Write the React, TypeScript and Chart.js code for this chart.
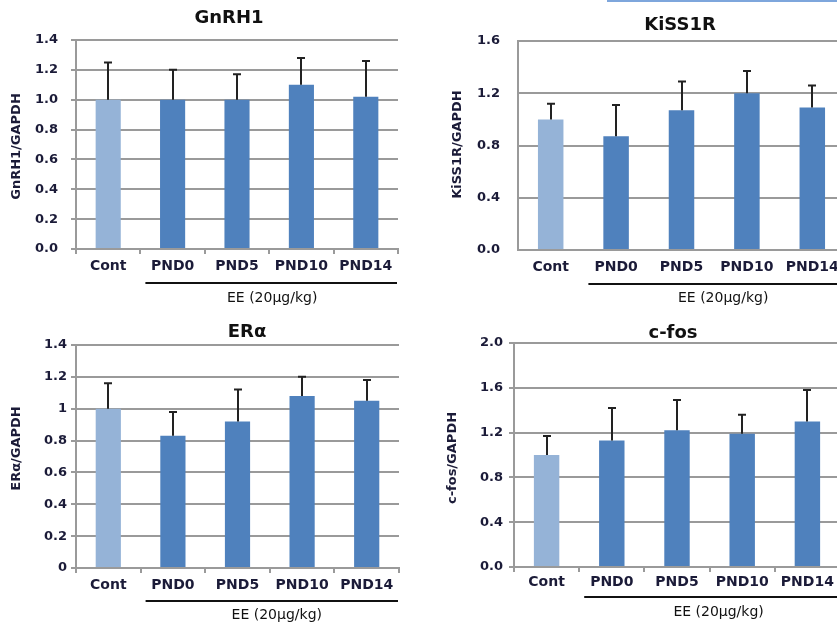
import React, { useEffect, useRef } from "react";
import { Chart, registerables } from "chart.js";

Chart.register(...registerables);

const categories = ["Cont", "PND0", "PND5", "PND10", "PND14"];

const gnrh1Values = [1.0, 1.0, 1.0, 1.1, 1.02];
const gnrh1Errors = [0.25, 0.2, 0.17, 0.18, 0.24];
const gnrh1Ticks = ["0.0", "0.2", "0.4", "0.6", "0.8", "1.0", "1.2", "1.4"];

const kiss1rValues = [1.0, 0.87, 1.07, 1.2, 1.09];
const kiss1rErrors = [0.12, 0.24, 0.22, 0.17, 0.17];
const kiss1rTicks = ["0.0", "0.4", "0.8", "1.2", "1.6"];

const eraValues = [1.0, 0.83, 0.92, 1.08, 1.05];
const eraErrors = [0.16, 0.15, 0.2, 0.12, 0.13];
const eraTicks = ["0", "0.2", "0.4", "0.6", "0.8", "1", "1.2", "1.4"];

const cfosValues = [1.0, 1.13, 1.22, 1.19, 1.3];
const cfosErrors = [0.17, 0.29, 0.27, 0.17, 0.28];
const cfosTicks = ["0.0", "0.4", "0.8", "1.2", "1.6", "2.0"];

const groupLabel = "EE (20μg/kg)";

const LIGHT = "#95B3D7";
const DARK = "#4F81BD";
const GRID = "#9a9a9a";
const TICK_COLOR = "#1b1b38";
const FONT = "DejaVu Sans";

type PanelCfg = {
  title: string;
  yTitle: string;
  values: number[];
  errors: number[];
  ticks: string[];
  max: number;
  step: number;
  left: number;
  top: number;
  width: number;
  height: number;
  area: { l: number; r: number; t: number; b: number };
  titleX: number;
  titleY: number;
  yTitleX: number;
  yTitleDy: number;
  yTickMarks: boolean;
  yPad: number;
  xTickMarks: boolean;
  xPad: number;
  bracketDy: number;
  eeDy: number;
  eeDx: number;
};

const panels: PanelCfg[] = [
  {
    title: "GnRH1", yTitle: "GnRH1/GAPDH", values: gnrh1Values, errors: gnrh1Errors, ticks: gnrh1Ticks,
    max: 1.4, step: 0.2, left: 0, top: 0, width: 420, height: 310,
    area: { l: 76, r: 398, t: 40, b: 249 }, titleX: 229, titleY: 18, yTitleX: 17, yTitleDy: 2,
    yTickMarks: true, yPad: 13, xTickMarks: true, xPad: 4, bracketDy: 34, eeDy: 49, eeDx: 3,
  },
  {
    title: "KiSS1R", yTitle: "KiSS1R/GAPDH", values: kiss1rValues, errors: kiss1rErrors, ticks: kiss1rTicks,
    max: 1.6, step: 0.4, left: 420, top: 0, width: 440, height: 310,
    area: { l: 98, r: 425, t: 41, b: 250 }, titleX: 260, titleY: 25, yTitleX: 38, yTitleDy: -1,
    yTickMarks: false, yPad: 18, xTickMarks: false, xPad: 9, bracketDy: 34, eeDy: 48, eeDx: 9,
  },
  {
    title: "ERα", yTitle: "ERα/GAPDH", values: eraValues, errors: eraErrors, ticks: eraTicks,
    max: 1.4, step: 0.2, left: 0, top: 310, width: 420, height: 316,
    area: { l: 76, r: 399, t: 35, b: 258 }, titleX: 247, titleY: 22, yTitleX: 17, yTitleDy: -8,
    yTickMarks: true, yPad: 4, xTickMarks: true, xPad: 4, bracketDy: 33, eeDy: 47, eeDx: 7,
  },
  {
    title: "c-fos", yTitle: "c-fos/GAPDH", values: cfosValues, errors: cfosErrors, ticks: cfosTicks,
    max: 2.0, step: 0.4, left: 420, top: 310, width: 440, height: 316,
    area: { l: 94, r: 420, t: 33, b: 257 }, titleX: 253, titleY: 23, yTitleX: 33, yTitleDy: 3,
    yTickMarks: true, yPad: 6, xTickMarks: true, xPad: 2, bracketDy: 30, eeDy: 45, eeDx: 9,
  },
];

function Panel({ cfg }: { cfg: PanelCfg }) {
  const ref = useRef<HTMLCanvasElement>(null);

  useEffect(() => {
    if (!ref.current) return;
    const a = cfg.area;
    const deco = {
      id: "deco",
      afterDatasetsDraw(chart: any) {
        const ctx = chart.ctx;
        const y = chart.scales.y;
        const meta = chart.getDatasetMeta(0);
        ctx.save();
        ctx.strokeStyle = "#222";
        ctx.lineWidth = 2;
        meta.data.forEach((bar: any, i: number) => {
          const base = y.getPixelForValue(cfg.values[i]);
          const top = y.getPixelForValue(cfg.values[i] + cfg.errors[i]);
          const bx = Math.round(bar.x);
          ctx.beginPath();
          ctx.moveTo(bx, base);
          ctx.lineTo(bx, top);
          ctx.moveTo(bx - 4, top);
          ctx.lineTo(bx + 4, top);
          ctx.stroke();
        });
        ctx.restore();
      },
      afterDraw(chart: any) {
        const ctx = chart.ctx;
        const x = chart.scales.x;
        const area = chart.chartArea;
        ctx.save();
        ctx.fillStyle = "#111";
        ctx.textAlign = "center";
        ctx.textBaseline = "middle";
        ctx.font = `bold 18px "${FONT}"`;
        ctx.fillText(cfg.title, cfg.titleX, cfg.titleY);
        ctx.save();
        ctx.translate(cfg.yTitleX, (area.top + area.bottom) / 2 + cfg.yTitleDy);
        ctx.rotate(-Math.PI / 2);
        ctx.font = `bold 13px "${FONT}"`;
        ctx.fillStyle = TICK_COLOR;
        ctx.fillText(cfg.yTitle, 0, 0);
        ctx.restore();
        const catW = x.getPixelForValue(1) - x.getPixelForValue(0);
        const bx0 = x.getPixelForValue(1) - catW / 2 + 5;
        const bx1 = area.right - 1;
        const by = area.bottom + cfg.bracketDy;
        ctx.strokeStyle = "#111";
        ctx.lineWidth = 2;
        ctx.beginPath();
        ctx.moveTo(bx0, by);
        ctx.lineTo(bx1, by);
        ctx.stroke();
        ctx.font = `14px "${FONT}"`;
        ctx.fillStyle = "#111";
        const ex = (x.getPixelForValue(1) + x.getPixelForValue(4)) / 2 + cfg.eeDx;
        ctx.fillText(groupLabel, ex, area.bottom + cfg.eeDy);
        ctx.restore();
      },
    };

    const chart = new Chart(ref.current, {
      type: "bar",
      data: {
        labels: categories,
        datasets: [
          {
            data: cfg.values,
            backgroundColor: categories.map((_, i) => (i === 0 ? LIGHT : DARK)),
            borderWidth: 0,
            barPercentage: 0.39,
            categoryPercentage: 1,
          },
        ],
      },
      options: {
        responsive: false,
        animation: false,
        layout: {
          padding: { left: 0, top: a.t, right: cfg.width - a.r, bottom: cfg.height - a.b - 40 },
        },
        plugins: {
          legend: { display: false },
          title: { display: false },
          tooltip: { enabled: false },
        },
        scales: {
          x: {
            afterFit: (s: any) => {
              s.height = 40;
            },
            grid: {
              display: true,
              drawOnChartArea: false,
              drawTicks: cfg.xTickMarks,
              tickLength: 5,
              color: GRID,
              lineWidth: 2,
              offset: true,
            },
            border: { color: GRID, width: 2 },
            ticks: {
              font: { family: FONT, size: 14, weight: "bold" },
              color: TICK_COLOR,
              padding: cfg.xPad,
              autoSkip: false,
              maxRotation: 0,
            },
          },
          y: {
            min: 0,
            max: cfg.max,
            afterFit: (s: any) => {
              s.width = a.l;
            },
            grid: {
              color: GRID,
              lineWidth: 2,
              drawTicks: cfg.yTickMarks,
              tickLength: 5,
            },
            border: { color: GRID, width: 2 },
            ticks: {
              stepSize: cfg.step,
              padding: cfg.yPad,
              font: { family: FONT, size: 13, weight: "bold" },
              color: TICK_COLOR,
              callback: (_v: any, i: number) => cfg.ticks[i],
            },
          },
        },
      },
      plugins: [deco],
    } as any);

    return () => chart.destroy();
  }, [cfg]);

  return (
    <div
      style={{
        position: "absolute",
        left: cfg.left,
        top: cfg.top,
        width: cfg.width,
        height: cfg.height,
      }}
    >
      <canvas
        ref={ref}
        width={cfg.width}
        height={cfg.height}
        style={{ width: cfg.width, height: cfg.height, display: "block" }}
      />
    </div>
  );
}

export default function App() {
  return (
    <div
      style={{
        position: "absolute",
        left: 0,
        top: 0,
        width: 837,
        height: 626,
        overflow: "hidden",
        background: "#fff",
      }}
    >
      <div
        style={{
          position: "absolute",
          left: 607,
          top: 0,
          width: 230,
          height: 2,
          background: "#7ea6dc",
        }}
      />
      {panels.map((p) => (
        <Panel key={p.title} cfg={p} />
      ))}
    </div>
  );
}
